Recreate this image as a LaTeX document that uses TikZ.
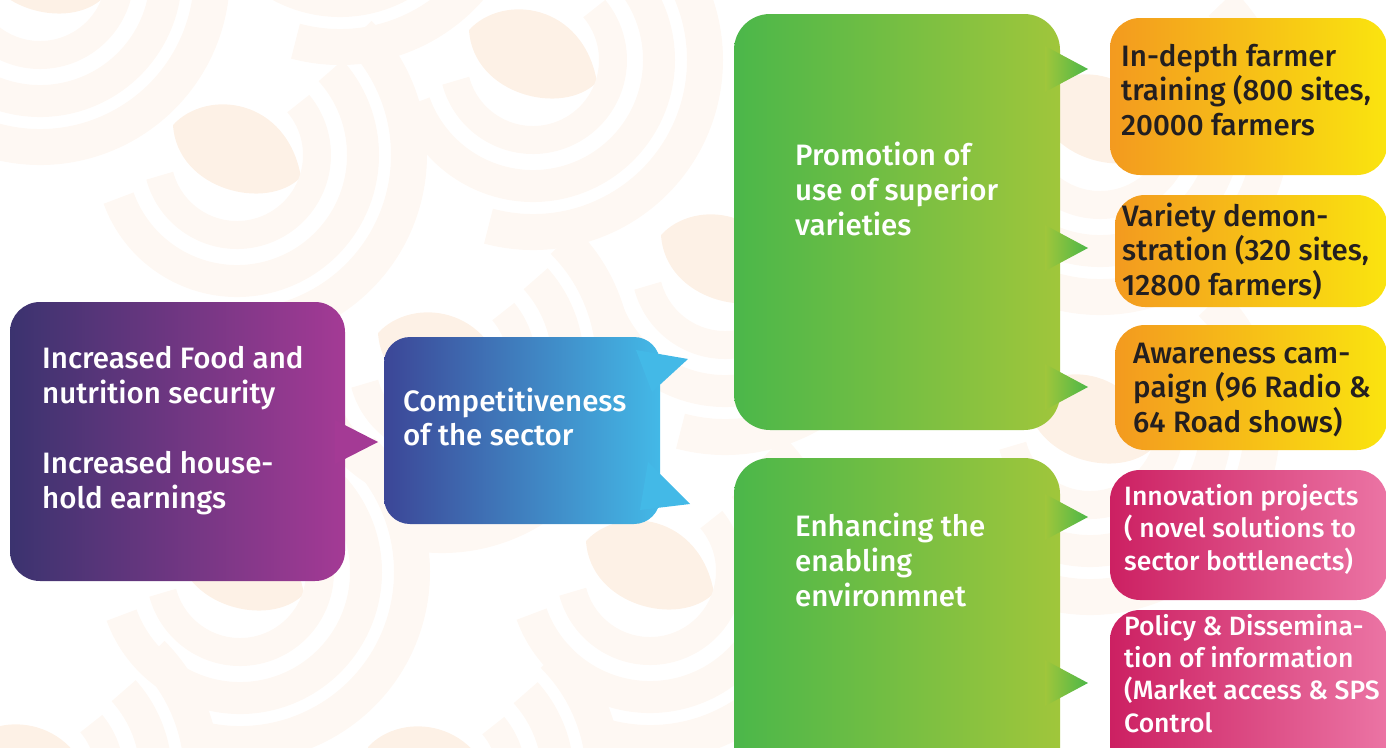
\documentclass[tikz,border=0pt]{standalone}
\usepackage{fontspec}
\setmainfont{Fira Sans}[UprightFont={* Medium}]
\definecolor{goalleft}{HTML}{3B336F}
\definecolor{goalright}{HTML}{A43A95}
\definecolor{compleft}{HTML}{3C4697}
\definecolor{compright}{HTML}{43B9E7}
\definecolor{greenleft}{HTML}{4BB74A}
\definecolor{greenright}{HTML}{A0C63B}
\definecolor{greentip}{HTML}{4CB748}
\definecolor{orangeleft}{HTML}{F39A1F}
\definecolor{orangeright}{HTML}{FAE40F}
\definecolor{pinkleft}{HTML}{CC2062}
\definecolor{pinkright}{HTML}{EB74A4}
\definecolor{petal}{HTML}{FDF1E6}
\definecolor{ring}{HTML}{FEF8F3}
\definecolor{darktext}{HTML}{231F20}

\begin{document}
\begin{tikzpicture}[x=1pt,y=-1pt,
  box/.style={rectangle, inner sep=0pt, rounded corners=30pt},
  txt/.style={anchor=base west, align=left, inner sep=0pt, text=white,
    font=\fontsize{29.5}{35}\selectfont},
  smalltxt/.style={txt, font=\fontsize{26.5}{32.3}\selectfont},
  darktxt/.style={txt, text=darktext, font=\fontsize{29.5}{34.5}\selectfont},
  lens/.style={fill=petal},
  band/.style={draw=ring, line cap=butt}]
\clip (0,0) rectangle (1386,747);
% background pattern
\foreach \mx/\my in {237/150, 533/55, 725/260, 240/567, 650/566, 432/772, 30/770, 40/-30, 340/-130, 442/358, 1090/420, 1100/120}
{
  \begin{scope}[shift={(\mx,\my)}]
    \fill[lens] (-64,-25) .. controls (-30,-62) and (50,-52) .. (64,27)
      .. controls (30,62) and (-60,40) .. cycle;
    \draw[band, line width=28pt] (0,5) ++(165:80) arc[start angle=165, end angle=-40, radius=80];
    \draw[band, line width=32pt] (0,5) ++(160:126) arc[start angle=160, end angle=-42, radius=126];
    \draw[band, line width=36pt] (0,5) ++(105:172) arc[start angle=105, end angle=-45, radius=172];
  \end{scope}
}
% boxes
\node[box, left color=goalleft, right color=goalright, minimum width=335pt, minimum height=279pt] (goal) at (177.5,441.5) {};
\node[box, rounded corners=26pt, left color=compleft, right color=compright, minimum width=276pt, minimum height=187pt] (comp) at (522,430.5) {};
\node[box, rounded corners=36pt, left color=greenleft, right color=greenright, minimum width=326pt, minimum height=416pt] (promo) at (897,222) {};
\node[box, rounded corners=36pt, left color=greenleft, right color=greenright, minimum width=326pt, minimum height=332pt] (enable) at (897,624) {};
\node[box, left color=orangeleft, right color=orangeright, minimum width=277pt, minimum height=157pt] (train) at (1248.5,96.5) {};
\node[box, left color=orangeleft, right color=orangeright, minimum width=272pt, minimum height=112pt] (demo) at (1251,251) {};
\node[box, left color=orangeleft, right color=orangeright, minimum width=272pt, minimum height=125pt] (aware) at (1251,387.5) {};
\node[box, left color=pinkleft, right color=pinkright, minimum width=277pt, minimum height=130pt] (innov) at (1248.5,535) {};
\node[box, left color=pinkleft, right color=pinkright, minimum width=277pt, minimum height=180pt] (policy) at (1248.5,700) {};
% pointers
\fill[goalright] (335,420) -- (378,442) -- (335,464) -- cycle;
\fill[compright] (636,350) -- (688,359) -- (652,392) -- cycle;
\fill[compright] (648,462) -- (690,504) -- (640,510) -- cycle;
\foreach \ty in {69, 248, 387, 517, 683}
  \shade[left color=greenright, right color=greentip] (1045,\ty-23) -- (1088,\ty) -- (1045,\ty+23) -- cycle;
% texts (anchored at the last baseline)
\node[txt] (goaltext) at (42,508) {Increased Food and\\nutrition security\\[35pt]Increased house-\\hold earnings};
\node[txt, font=\fontsize{29.5}{33.5}\selectfont] (comptext) at (403,445) {Competitiveness\\of the sector};
\node[txt] (promotext) at (795,235) {Promotion of\\use of superior\\varieties};
\node[txt] (enabletext) at (795,606) {Enhancing the\\enabling\\environmnet};
\node[darktxt] (traintext) at (1121,135) {In-depth farmer\\training (800 sites,\\20000 farmers};
\node[darktxt] (demotext) at (1122,295) {Variety demon-\\stration (320 sites,\\12800 farmers)};
\node[darktxt] (awaretext) at (1133,432) {Awareness cam-\\paign (96 Radio \&\\64 Road shows)};
\node[smalltxt] (innovtext) at (1124,570) {Innovation projects\\( novel solutions to\\sector bottlenects)};
\node[smalltxt] (policytext) at (1124,732) {Policy \& Dissemina-\\tion of information\\(Market access \& SPS\\Control};
\end{tikzpicture}
\end{document}
